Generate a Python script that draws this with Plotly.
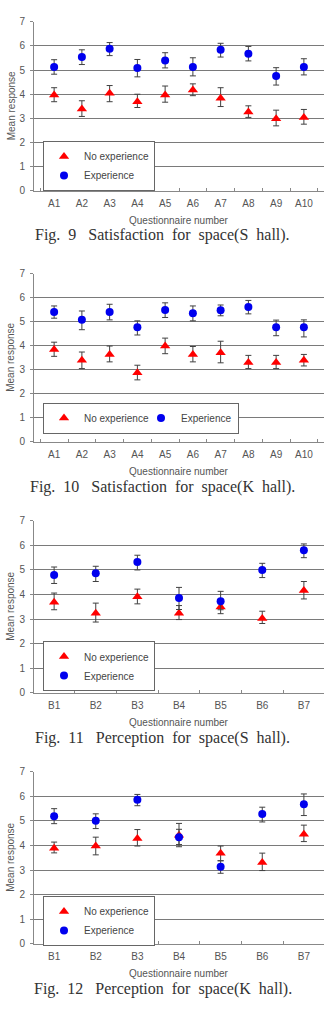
import plotly.graph_objects as go

# ---------------- data ----------------
cats_A = ["A1", "A2", "A3", "A4", "A5", "A6", "A7", "A8", "A9", "A10"]
cats_B = ["B1", "B2", "B3", "B4", "B5", "B6", "B7"]

# Fig. 9  Satisfaction for space (S hall)
f9_noexp = [3.97, 3.39, 4.04, 3.69, 3.97, 4.17, 3.83, 3.26, 2.98, 3.04]
f9_noexp_up = [0.30, 0.34, 0.32, 0.31, 0.37, 0.26, 0.44, 0.26, 0.36, 0.33]
f9_noexp_dn = [0.28, 0.31, 0.35, 0.24, 0.30, 0.23, 0.34, 0.22, 0.29, 0.28]
f9_exp = [5.13, 5.54, 5.88, 5.09, 5.40, 5.13, 5.84, 5.68, 4.75, 5.13]
f9_exp_up = [0.30, 0.30, 0.26, 0.35, 0.32, 0.38, 0.27, 0.30, 0.35, 0.34]
f9_exp_dn = [0.30, 0.31, 0.28, 0.37, 0.31, 0.37, 0.30, 0.30, 0.37, 0.33]

# Fig. 10  Satisfaction for space (K hall)
f10_noexp = [3.85, 3.40, 3.64, 2.88, 3.99, 3.64, 3.71, 3.30, 3.30, 3.40]
f10_noexp_up = [0.30, 0.34, 0.35, 0.31, 0.33, 0.33, 0.48, 0.30, 0.30, 0.24]
f10_noexp_dn = [0.29, 0.35, 0.31, 0.30, 0.32, 0.31, 0.42, 0.25, 0.25, 0.24]
f10_exp = [5.41, 5.08, 5.41, 4.77, 5.49, 5.36, 5.48, 5.62, 4.77, 4.77]
f10_exp_up = [0.25, 0.37, 0.32, 0.27, 0.30, 0.30, 0.22, 0.27, 0.30, 0.31]
f10_exp_dn = [0.26, 0.41, 0.33, 0.32, 0.31, 0.32, 0.23, 0.29, 0.35, 0.40]

# Fig. 11  Perception for space (S hall)
f11_noexp = [3.69, 3.24, 3.91, 3.24, 3.49, 3.02, 4.16]
f11_noexp_up = [0.37, 0.41, 0.31, 0.31, 0.20, 0.30, 0.37]
f11_noexp_dn = [0.31, 0.36, 0.29, 0.26, 0.27, 0.20, 0.34]
f11_exp = [4.79, 4.87, 5.32, 3.86, 3.73, 5.00, 5.80]
f11_exp_up = [0.33, 0.28, 0.28, 0.43, 0.40, 0.27, 0.26]
f11_exp_dn = [0.34, 0.34, 0.32, 0.47, 0.35, 0.31, 0.30]

# Fig. 12  Perception for space (K hall)
f12_noexp = [3.89, 3.98, 4.29, 4.42, 3.69, 3.31, 4.46]
f12_noexp_up = [0.25, 0.36, 0.36, 0.48, 0.29, 0.38, 0.37]
f12_noexp_dn = [0.19, 0.36, 0.31, 0.47, 0.31, 0.33, 0.30]
f12_exp = [5.19, 5.01, 5.86, 4.34, 3.14, 5.28, 5.68]
f12_exp_up = [0.31, 0.28, 0.22, 0.32, 0.24, 0.28, 0.42]
f12_exp_dn = [0.30, 0.32, 0.24, 0.30, 0.27, 0.32, 0.46]

captions = [
    "Fig.  9   Satisfaction  for  space(S  hall).",
    "Fig.  10   Satisfaction  for  space(K  hall).",
    "Fig.  11   Perception  for  space(S  hall).",
    "Fig.  12   Perception  for  space(K  hall).",
]
series_names = ["No experience", "Experience"]

panels = [
    (cats_A, f9_noexp, f9_noexp_up, f9_noexp_dn, f9_exp, f9_exp_up, f9_exp_dn),
    (cats_A, f10_noexp, f10_noexp_up, f10_noexp_dn, f10_exp, f10_exp_up, f10_exp_dn),
    (cats_B, f11_noexp, f11_noexp_up, f11_noexp_dn, f11_exp, f11_exp_up, f11_exp_dn),
    (cats_B, f12_noexp, f12_noexp_up, f12_noexp_dn, f12_exp, f12_exp_up, f12_exp_dn),
]

# ---------------- layout geometry (pixels) ----------------
W, H = 325, 1014
plot_left, plot_right = 34, 324
panel_px = [(16, 187), (271, 441), (521, 695), (775, 949)]
caption_px = [232, 487, 741, 995]
legend_px = [(43, 162, "v"), (43, 417, "h"), (43, 668, "v"), (43, 926, "v")]

def py(p):
    return 1 - p / H

FONT = "Liberation Sans, Arial, sans-serif"
TXT = "#555555"
GRID = "#7a7a7a"
ERR = "#404040"

fig = go.Figure()
layout = dict(
    width=W, height=H,
    margin=dict(l=0, r=0, t=0, b=0),
    paper_bgcolor="white", plot_bgcolor="white",
    font=dict(family=FONT, size=10, color=TXT),
    annotations=[],
)

for i, (cats, ne, ne_up, ne_dn, ex, ex_up, ex_dn) in enumerate(panels):
    n = i + 1
    xa = "x" if n == 1 else f"x{n}"
    ya = "y" if n == 1 else f"y{n}"
    lg = "legend" if n == 1 else f"legend{n}"
    fig.add_trace(go.Scatter(
        x=cats, y=ne, mode="markers", name=series_names[0],
        xaxis=xa, yaxis=ya, legend=lg,
        marker=dict(symbol="triangle-up", size=9, color="#ff0000"),
        error_y=dict(type="data", symmetric=False, array=ne_up, arrayminus=ne_dn,
                     color=ERR, thickness=1, width=3),
    ))
    fig.add_trace(go.Scatter(
        x=cats, y=ex, mode="markers", name=series_names[1],
        xaxis=xa, yaxis=ya, legend=lg,
        marker=dict(symbol="circle", size=8, color="#0000ee"),
        error_y=dict(type="data", symmetric=False, array=ex_up, arrayminus=ex_dn,
                     color=ERR, thickness=1, width=3),
    ))
    top, bot = panel_px[i]
    xkey = "xaxis" if n == 1 else f"xaxis{n}"
    ykey = "yaxis" if n == 1 else f"yaxis{n}"
    layout[xkey] = dict(
        domain=[plot_left / W, plot_right / W], anchor=ya,
        type="category", showgrid=False, zeroline=False,
        showline=True, linecolor="#888888", linewidth=1,
        ticks="inside", ticklen=3, tickcolor="#888888", tickson="boundaries",
        ticklabelstandoff=3,
        tickfont=dict(size=10, color=TXT), fixedrange=True,
    )
    layout[ykey] = dict(
        domain=[py(bot), py(top)], anchor=xa,
        range=[0, 7], dtick=1, tick0=0,
        showgrid=True, gridcolor=GRID, gridwidth=1, zeroline=False,
        showline=True, linecolor="#888888", linewidth=1,
        ticks="outside", ticklen=3, tickcolor="#888888",
        ticklabelstandoff=3,
        tickfont=dict(size=10, color=TXT), fixedrange=True,
    )
    lx, ly, orient = legend_px[i]
    leg = dict(
        x=lx / W, y=py(ly), xanchor="left", yanchor="middle",
        orientation=orient, bgcolor="white", bordercolor="#666666", borderwidth=1,
        font=dict(size=10, color="#444444", family=FONT), itemwidth=30,
        tracegroupgap=0,
    )
    if orient == "h":
        leg["entrywidth"] = 52
    layout[lg] = leg
    mid = (top + bot) / 2
    layout["annotations"].append(dict(
        text="Mean response", textangle=-90, x=11 / W, y=py(mid),
        xref="paper", yref="paper", showarrow=False,
        xanchor="center", yanchor="middle",
        font=dict(size=10, color=TXT, family=FONT),
    ))
    layout["annotations"].append(dict(
        text="Questionnaire number", x=((plot_left + plot_right) / 2) / W, y=py(bot + 30),
        xref="paper", yref="paper", showarrow=False,
        xanchor="center", yanchor="middle",
        font=dict(size=10, color=TXT, family=FONT),
    ))
    layout["annotations"].append(dict(
        text=captions[i], x=163 / W, y=py(caption_px[i]),
        xref="paper", yref="paper", showarrow=False,
        xanchor="center", yanchor="middle",
        font=dict(size=16, color="#333333", family="Liberation Serif, Times New Roman, serif"),
    ))

fig.update_layout(**layout)
fig.write_html("out.html", config={"displayModeBar": False})
